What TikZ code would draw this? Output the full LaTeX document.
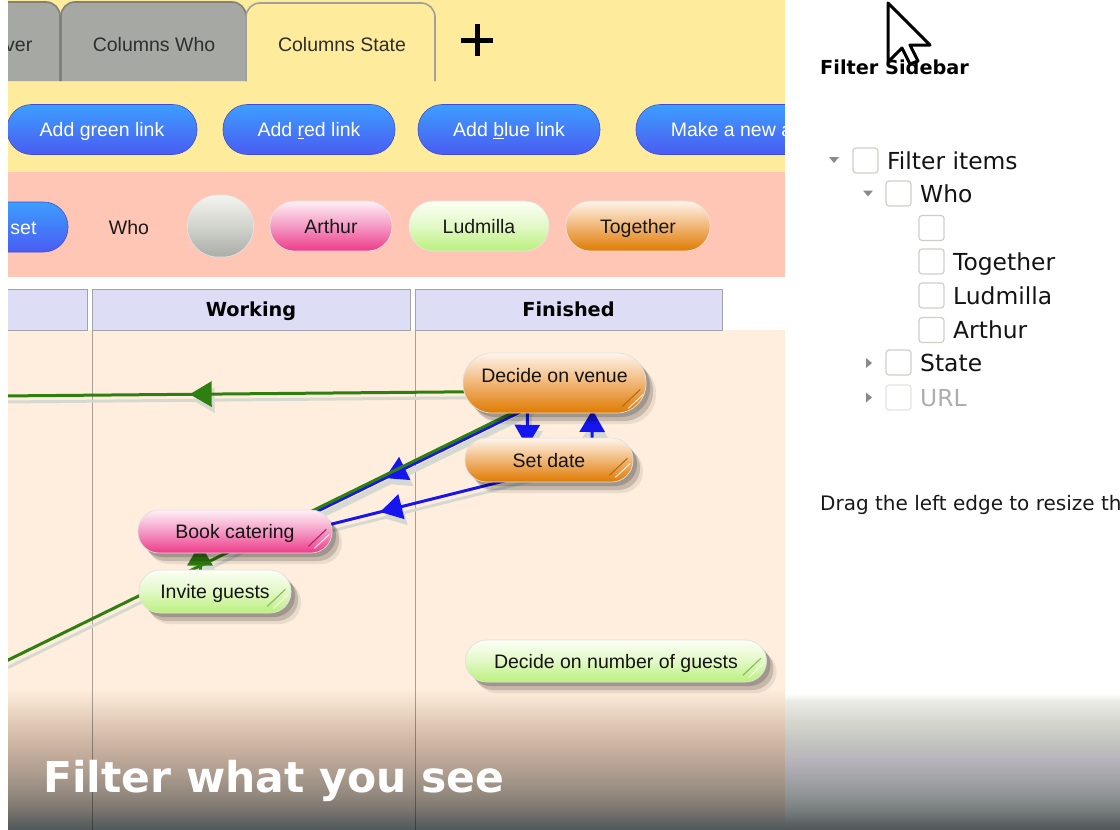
\documentclass[tikz,border=0pt]{standalone}
\usepackage{fontspec}
\setmainfont{Liberation Sans}
\newfontfamily\dvfont{DejaVu Sans}
\usetikzlibrary{shadows,decorations.markings,arrows.meta}
\pgfdeclarelayer{back}
\pgfdeclarelayer{mid}
\pgfsetlayers{back,mid,main}

\definecolor{ybg}{HTML}{FFEB9C}
\definecolor{pbg}{HTML}{FFC6B5}
\definecolor{board}{HTML}{FFEEDD}
\definecolor{hdr}{HTML}{DDDDF5}
\definecolor{hdrb}{HTML}{A2A2AA}
\definecolor{tabg}{HTML}{A6A9A3}
\definecolor{tabb}{HTML}{7F817D}
\definecolor{tabline}{HTML}{A0A09A}
\definecolor{btop}{HTML}{3D9EFF}
\definecolor{bbot}{HTML}{4A5CF2}
\definecolor{gline}{HTML}{2F7F10}
\definecolor{bline}{HTML}{1515F0}
\definecolor{lshadow}{HTML}{D6D9D0}
\definecolor{otop}{HTML}{FFF5EC}\definecolor{omid}{HTML}{F0B676}\definecolor{obot}{HTML}{E07A00}
\definecolor{ptop}{HTML}{FFF0F7}\definecolor{pmid}{HTML}{F49AC4}\definecolor{pbot}{HTML}{EE3A88}
\definecolor{gtop}{HTML}{FBFFF4}\definecolor{gmid}{HTML}{E2F8C6}\definecolor{gbot}{HTML}{BAF07C}
\definecolor{rtop}{HTML}{F4F4EE}\definecolor{rmid}{HTML}{D2D4CE}\definecolor{rbot}{HTML}{A9ADA6}
\definecolor{omark}{HTML}{B86810}\definecolor{pmark}{HTML}{B82066}\definecolor{gmark}{HTML}{88B860}
\definecolor{cbb}{HTML}{CFCFC8}
\definecolor{tri}{HTML}{8A8A8A}
\definecolor{g0}{HTML}{FFEEDD}\definecolor{g1}{HTML}{F3DFCD}\definecolor{g2}{HTML}{E2CBB9}
\definecolor{g3}{HTML}{D0B8A6}\definecolor{g4}{HTML}{BEA898}\definecolor{g5}{HTML}{A89A8C}
\definecolor{g6}{HTML}{92887E}\definecolor{g7}{HTML}{7A746E}\definecolor{g8}{HTML}{5E6262}
\definecolor{g9}{HTML}{50585A}
\definecolor{s0}{HTML}{FFFFFF}\definecolor{s1}{HTML}{ECECE6}\definecolor{s2}{HTML}{D6D8D0}
\definecolor{s3}{HTML}{C4C6C0}\definecolor{s4}{HTML}{B6B4BA}\definecolor{s5}{HTML}{A2A4A6}
\definecolor{s6}{HTML}{8C9192}\definecolor{s7}{HTML}{747A7A}\definecolor{s8}{HTML}{5E6466}
\definecolor{s9}{HTML}{505658}

\tikzset{
  ar/.style={font=\fontsize{19.5}{22}\selectfont, text height=14pt, text depth=0pt, inner sep=0pt},
  tabtext/.style={ar, text=black!82},
  btn/.style={ar, rectangle, rounded corners=24.5pt, minimum height=50pt, top color=btop, bottom color=bbot, draw=bbot!85!black, line width=0.6pt, text=white},
  fpill/.style={ar, rectangle, rounded corners=24.5pt, minimum height=50pt, draw=black!10, line width=0.6pt, text=black!90},
  orangefill/.style={top color=otop, bottom color=obot, middle color=omid},
  pinkfill/.style={top color=ptop, bottom color=pbot, middle color=pmid},
  greenfill/.style={top color=gtop, bottom color=gbot, middle color=gmid},
  grayfill/.style={top color=rtop, bottom color=rbot, middle color=rmid},
  cardbase/.style={ar, rectangle, draw=black!12, line width=0.7pt, text=black!92,
    drop shadow={shadow xshift=4pt, shadow yshift=-4pt, opacity=0.18, fill=black},
    drop shadow={shadow xshift=7pt, shadow yshift=-8pt, opacity=0.16, fill=black},
    drop shadow={shadow xshift=10pt, shadow yshift=-11pt, opacity=0.08, fill=black}},
  hdrcell/.style={rectangle, fill=hdr, draw=hdrb, line width=1pt, inner sep=0pt,
    font=\dvfont\bfseries\fontsize{19.3}{22}\selectfont, text height=14pt, text depth=0pt},
  collinestyle/.style={black, opacity=0.33, line width=1pt},
  link/.style={line width=3pt},
  arrowat/.style={postaction={decorate}, decoration={markings, mark=at position #1 with {\arrow{Triangle[length=22pt,width=25pt]}}}},
  cb/.style={rectangle, rounded corners=3pt, minimum size=25pt, inner sep=0pt, draw=cbb, line width=1.2pt, fill=white},
  tree/.style={font=\dvfont\fontsize{23.4}{26}\selectfont, inner sep=0pt, anchor=base west, text=black!92},
  sbhead/.style={font=\dvfont\bfseries\fontsize{19.3}{22}\selectfont, inner sep=0pt, anchor=base west},
  sbtext/.style={font=\dvfont\fontsize{20}{24}\selectfont, inner sep=0pt, anchor=base west, text=black!90},
  marklineA/.style={line width=1.1pt},
  marklineB/.style={white, opacity=0.75, line width=1.1pt}
}

\newcommand\drawlinks[2]{%
  \draw[link, #2, arrowat=0.597] ([shift={(-14,19)}]venue.center) -- ([shift={(45,-2)}]book.center);
  \draw[link, #2, arrowat=0.615] ([shift={(-9,12)}]setdate.center) -- ([shift={(45,5.5)}]book.center);
  \draw[link, #2, arrowat=0.78] ([shift={(-27,17)}]venue.center) -- ([shift={(-22,0)}]setdate.center);
  \draw[link, #2, arrowat=0.833] ([shift={(43,0)}]setdate.center) -- ([shift={(38,17)}]venue.center);
  \draw[link, #1, arrowat=0.658] ([shift={(0,8)}]venue.center) -- (freeA);
  \draw[link, #1] (freeB) -- ([shift={(-14,16)}]venue.center);
  \draw[link, #1, arrowat=0.8] ([shift={(-15,0)}]invite.center) -- ([shift={(-35,0)}]book.center);
}

\begin{document}
\begin{tikzpicture}[x=1pt,y=-1pt]
\useasboundingbox (0,0) rectangle (1120,830);

\begin{pgfonlayer}{back}
  \fill[white] (0,0) rectangle (1120,830);
  \fill[ybg] (8,0) rectangle (785,172);
  \fill[pbg] (8,172) rectangle (785,277);
  \fill[board] (8,330) rectangle (785,830);
  \foreach \ya/\yb/\ca/\cb in {688/703/g0/g1, 703/720/g1/g2, 720/740/g2/g3, 740/758/g3/g4,
      758/776/g4/g5, 776/794/g5/g6, 794/810/g6/g7, 810/822/g7/g8, 822/830/g8/g9}
    \shade[top color=\ca, bottom color=\cb] (8,\ya) rectangle (785,\yb+0.6);
  \draw[collinestyle] (92,330) -- (92,830);
  \draw[collinestyle] (415,330) -- (415,830);
\end{pgfonlayer}

% tabs
\filldraw[fill=tabg, draw=tabb, line width=1.6pt, rounded corners=14pt] (-30,81) -- (-30,2) -- (60,2) -- (60,81);
\filldraw[fill=tabg, draw=tabb, line width=1.6pt, rounded corners=14pt] (61,81) -- (61,2) -- (246,2) -- (246,81);
\filldraw[fill=ybg, draw=tabline, line width=1.6pt, rounded corners=14pt] (246,81) -- (246,3) -- (435,3) -- (435,81);
\node[tabtext, anchor=east] (tabver) at (32.5,44) {ver};
\node[tabtext] (tabwho) at (154,44) {Columns Who};
\node[tabtext] (tabstate) at (342,44) {Columns State};
\draw[line width=5pt] (461,40) -- (493,40);
\draw[line width=5pt] (477,24) -- (477,56);

% buttons
\node[btn, minimum width=190pt] (b1) at (102,129.5) {Add green link};
\node[btn, minimum width=172pt] (b2) at (309,129.5) {Add \underline{r}ed link};
\node[btn, minimum width=182pt] (b3) at (509,129.5) {Add \underline{b}lue link};
\node[btn, minimum width=191pt] (b4) at (731.5,129.5) {Make a new a};

% filter row
\node[btn, minimum width=89pt] (bset) at (23.5,227) {set};
\node[ar, text=black!90] (wholab) at (129,227) {Who};
\node[fpill, grayfill, minimum width=66pt, minimum height=62pt, rounded corners=30.5pt] (pnone) at (220.5,226) {};
\node[fpill, pinkfill, minimum width=122pt] (parthur) at (331,226) {Arthur};
\node[fpill, greenfill, minimum width=140pt] (pludmilla) at (479,226) {Ludmilla};
\node[fpill, orangefill, minimum width=144pt] (ptogether) at (638,226) {Together};

% headers
\node[hdrcell, minimum width=96pt, minimum height=41pt] (hleft) at (39,309.5) {};
\node[hdrcell, minimum width=318pt, minimum height=41pt] (hwork) at (251,309.5) {Working};
\node[hdrcell, minimum width=307pt, minimum height=41pt] (hfin) at (568.5,309.5) {Finished};

% cards
\node[cardbase, orangefill, rounded corners=29pt, minimum width=183pt, minimum height=60pt] (venue) at (554.5,383) {\raisebox{8pt}{Decide on venue}};
\node[cardbase, orangefill, rounded corners=21.5pt, minimum width=168pt, minimum height=44pt] (setdate) at (549,460) {Set date};
\node[cardbase, pinkfill, rounded corners=21pt, minimum width=194pt, minimum height=43pt] (book) at (235,531.5) {Book catering};
\node[cardbase, greenfill, rounded corners=21pt, minimum width=152pt, minimum height=43pt] (invite) at (215,591.5) {Invite guests};
\node[cardbase, greenfill, rounded corners=21pt, minimum width=301pt, minimum height=42pt] (number) at (616,661) {Decide on number of guests};

\foreach \n/\c in {venue/omark, setdate/omark, book/pmark, invite/gmark, number/gmark} {
  \draw[marklineA, \c] ([shift={(-24,-7)}]\n.south east) -- ([shift={(-6,-24)}]\n.south east);
  \draw[marklineB] ([shift={(-18,-5)}]\n.south east) -- ([shift={(-3,-19)}]\n.south east);
}

\coordinate (freeA) at (0,396);
\coordinate (freeB) at (0,664);

\begin{pgfonlayer}{mid}
  \begin{scope}[transform canvas={shift={(3pt,-6pt)}}]
    \drawlinks{lshadow}{lshadow}
  \end{scope}
  \drawlinks{gline}{bline}
\end{pgfonlayer}

% sidebar
\fill[white] (785,0) rectangle (1120,693);
\foreach \ya/\yb/\ca/\cb in {693/700/s0/s1, 700/720/s1/s2, 720/740/s2/s3, 740/760/s3/s4,
    760/778/s4/s5, 778/796/s5/s6, 796/812/s6/s7, 812/822/s7/s8, 822/830/s8/s9}
  \shade[top color=\ca, bottom color=\cb] (785,\ya) rectangle (1120,\yb+0.6);

\node[sbhead] (sbtitle) at (820,74) {Filter Sidebar};

\fill[tri] (829,157) -- (839,157) -- (834,163) -- cycle;
\fill[tri] (863,190.5) -- (873,190.5) -- (868,196.5) -- cycle;
\fill[tri] (866,358) -- (866,368) -- (872,363) -- cycle;
\fill[tri] (866,392.5) -- (866,402.5) -- (872,397.5) -- cycle;

\node[cb] (cb0) at (865.5,160.5) {};
\node[tree] (t0) at (887,169.5) {Filter items};
\node[cb] (cb1) at (898.5,193.5) {};
\node[tree] (t1) at (920,202.5) {Who};
\node[cb] (cb2) at (931.5,228) {};
\node[cb] (cb3) at (931.5,261.5) {};
\node[tree] (t3) at (953,270) {Together};
\node[cb] (cb4) at (931.5,295.5) {};
\node[tree] (t4) at (953,304) {Ludmilla};
\node[cb] (cb5) at (931.5,330) {};
\node[tree] (t5) at (953,338.5) {Arthur};
\node[cb] (cb6) at (898.5,362.5) {};
\node[tree] (t6) at (920,371) {State};
\node[cb, draw=cbb!60] (cb7) at (898.5,397.5) {};
\node[tree, text=black!32] (t7) at (920,406) {URL};

\node[sbtext] (drag) at (820,510) {Drag the left edge to resize th};

% left strip
\fill[white] (0,0) rectangle (8,830);

% title
\node[font=\dvfont\bfseries\fontsize{42.5}{48}\selectfont, inner sep=0pt, anchor=base west, text=white] (title) at (43,792) {Filter what you see};

% cursor
\draw[fill=white, line width=3pt, line join=round] (888,3) -- (888,62) -- (902,48) -- (910,64) -- (918,61) -- (910,45) -- (930,45) -- cycle;
\end{tikzpicture}
\end{document}
